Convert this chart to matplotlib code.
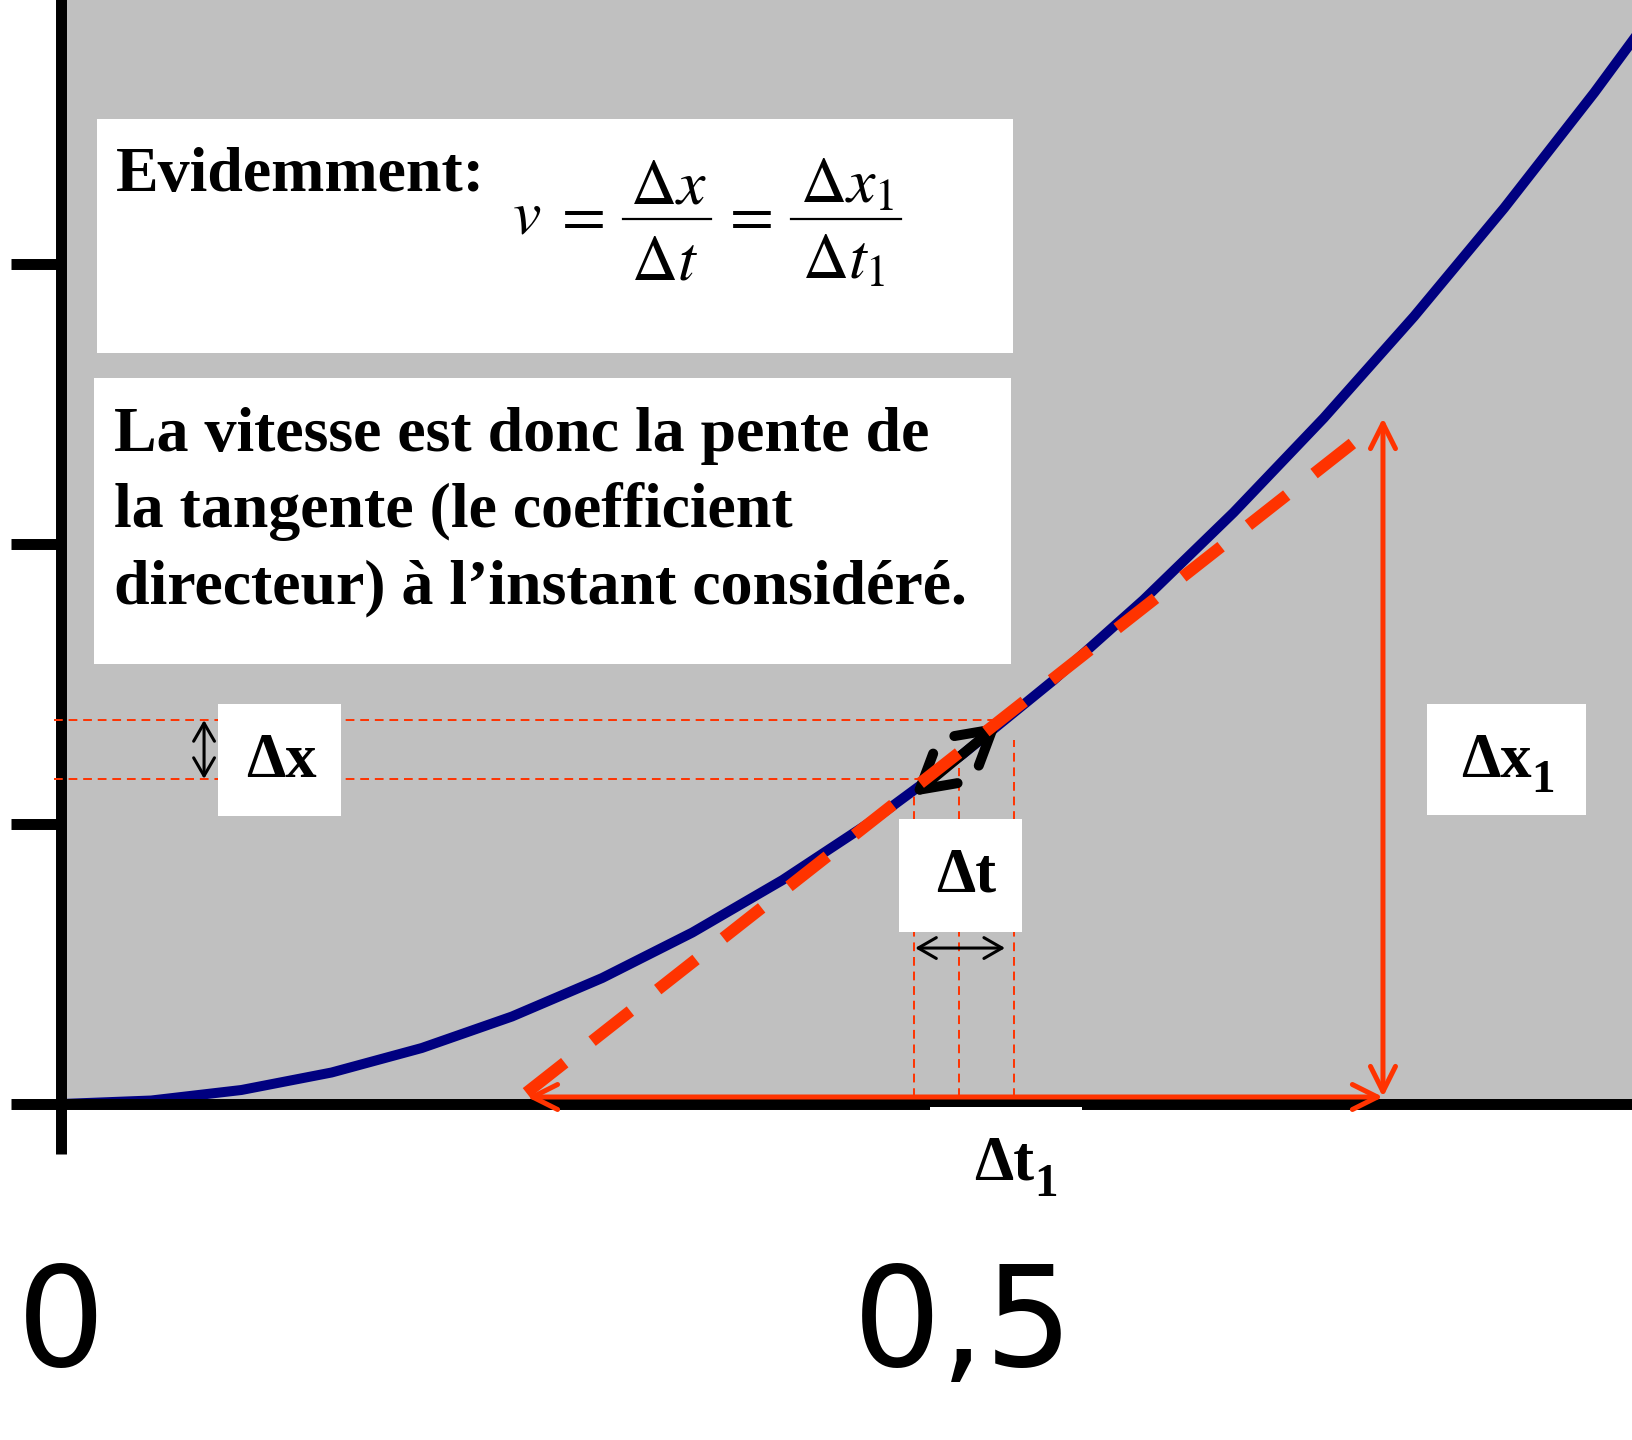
import matplotlib.pyplot as plt
from matplotlib.patches import Rectangle
from matplotlib.lines import Line2D

W, H = 1633, 1440
plt.rcParams['mathtext.fontset'] = 'stix'

# chute libre : temps (s) et position (m)
t = [0, 0.05, 0.1, 0.15, 0.2, 0.25, 0.3, 0.35, 0.4, 0.45,
     0.5, 0.55, 0.6, 0.65, 0.7, 0.75, 0.8, 0.85, 0.9]
x = [0, 0.0125, 0.05, 0.1125, 0.2, 0.3125, 0.45, 0.6125, 0.8, 1.0125,
     1.25, 1.5125, 1.8, 2.1125, 2.45, 2.8125, 3.2, 3.6125, 4.05]

# tangente autour de t = 0,5
tan_t = [0.258, 0.718]
tan_x = [0.04, 2.37]

# petits intervalles Δt et Δx
dt_marks = [0.473, 0.498, 0.528]
dt_tops = [1.111, 1.2, 1.3]
dx_levels = [1.161, 1.371]
dx_ends = [0.476, 0.5166]

# grands intervalles Δt1 et Δx1
t1 = [0.2583, 0.7328]
x1 = [0.025, 2.45]

xtick_vals = [0, 0.5]
xtick_labels = ['0', '0,5']
ytick_vals = [0, 1, 2, 3]

red = '#FF3300'

fig = plt.figure(figsize=(W / 100, H / 100), dpi=100)
ax = fig.add_axes([61 / W, 336 / H, (W - 61) / W, 1104 / H])
ax.set_facecolor('#C0C0C0')
ax.set_xlim(0, (W - 61) / 1804)
ax.set_ylim(0, 1104 / 280)
for s in ['top', 'right']:
    ax.spines[s].set_visible(False)
for s in ['left', 'bottom']:
    ax.spines[s].set_linewidth(7.9)
ax.set_xticks(xtick_vals, xtick_labels)
ax.set_yticks(ytick_vals, [])
ax.tick_params(length=36, width=7.9, direction='out')
ax.tick_params(axis='x', labelsize=100, pad=76)

# courbe x(t)
ax.plot(t, x, color='#000080', lw=7.2, solid_joinstyle='miter', zorder=2)

# tangente en pointillés
ax.plot(tan_t, tan_x, color=red, lw=8.6, dashes=(4.08, 2.91), zorder=4)

# repères en tirets fins
for xm, top in zip(dt_marks, dt_tops):
    ax.plot([xm, xm], [x1[0], top], color=red, lw=1.4, dashes=(4.5, 3), zorder=2.6)
for lv, end in zip(dx_levels, dx_ends):
    ax.plot([-0.004, end], [lv, lv], color=red, lw=1.4, dashes=(4.5, 3),
            zorder=2.6, clip_on=False)


def arrow(p0, p1, color, lw, hl, hw, **kw):
    ax.annotate('', xy=p1, xytext=p0, zorder=3,
                arrowprops=dict(arrowstyle=f'<->,head_length={hl},head_width={hw}',
                                color=color, lw=lw, shrinkA=0, shrinkB=0,
                                mutation_scale=1, **kw))


arrow((t1[0], x1[0]), (t1[1], x1[0]), red, 3.6, 18, 9)
arrow((t1[1], x1[0]), (t1[1], x1[1]), red, 3.6, 18, 9)
arrow((0.0793, dx_levels[0]), (0.0793, dx_levels[1]), 'black', 2.2, 13, 7.5)
arrow((dt_marks[0] + 0.0005, 0.557), (0.5233, 0.557), 'black', 2.2, 13, 7.5)
arrow((0.4717, 1.10), (0.5205, 1.36), 'black', 7.2, 24, 13.8,
      capstyle='round')


def P(px, py):
    return px / W, 1 - py / H


# cadres blancs
boxes = [(97, 119, 1013, 353), (94, 378, 1011, 664), (218, 704, 341, 816),
         (899, 819, 1022, 932), (1427, 704, 1586, 815), (930, 1107, 1082, 1220)]
for x0, y0, x1b, y1b in boxes:
    fig.add_artist(Rectangle(P(x0, y1b), (x1b - x0) / W, (y1b - y0) / H,
                             transform=fig.transFigure, facecolor='white',
                             edgecolor='none', zorder=5))

serif = dict(family='Liberation Serif', weight='bold', fontsize=46, zorder=6,
             va='baseline', ha='left')
fig.text(*P(116, 191), 'Evidemment:', **serif)

# v = Δx/Δt = Δx1/Δt1, posé morceau par morceau
eq = dict(fontsize=46, zorder=6, va='baseline', ha='center')
bar_y = 219
fig.text(*P(527, 234), r'$v$', **eq)
fig.text(*P(578, 234), r'$=$', **eq)
fig.text(*P(746, 234), r'$=$', **eq)
for (xa, xb), num, den in [((623, 711), r'$\Delta x$', r'$\Delta t$'),
                           ((791, 901), r'$\Delta x_1$', r'$\Delta t_1$')]:
    fig.add_artist(Line2D([xa / W, xb / W], [1 - bar_y / H] * 2, color='black',
                          lw=1.6, transform=fig.transFigure, zorder=6))
    fig.text(*P((xa + xb) / 2 + 1, 203), num, **eq)
    fig.text(*P((xa + xb) / 2 - 2, 279), den, **eq)

lines = ['La vitesse est donc la pente de',
         'la tangente (le coefficient',
         'directeur) à l\u2019instant considéré.']
for ln, base in zip(lines, [451, 527, 603]):
    fig.text(*P(114, base), ln, **serif)

# étiquettes Δ avec indice
lab = dict(family='Liberation Serif', weight='bold', fontsize=45, zorder=6,
           va='baseline', ha='left')
sub = dict(lab, fontsize=34)
fig.text(*P(246, 777), '\u0394x', **lab)
fig.text(*P(936, 892), '\u0394t', **lab)
fig.text(*P(1461, 777), '\u0394x', **lab)
fig.text(*P(1531, 792), '1', **sub)
fig.text(*P(974, 1179), '\u0394t', **lab)
fig.text(*P(1034, 1196), '1', **sub)

fig.savefig('out.png', dpi=100)
